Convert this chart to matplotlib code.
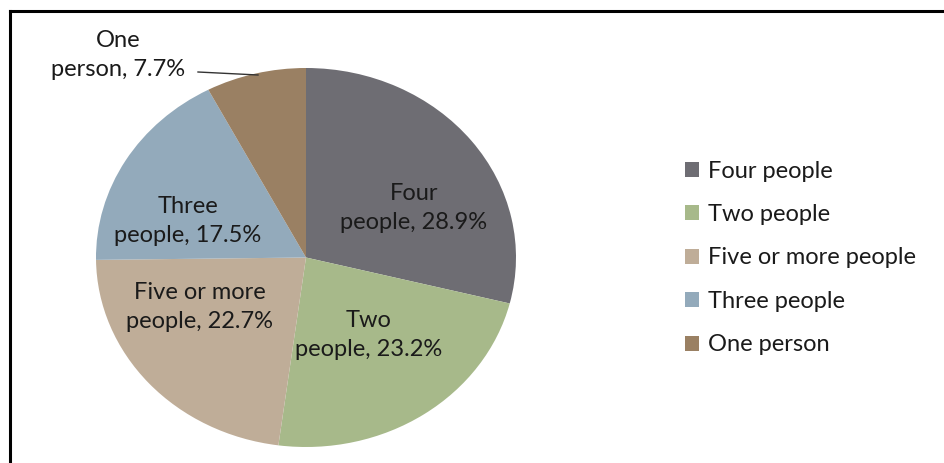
import matplotlib.pyplot as plt
from matplotlib.lines import Line2D
from matplotlib.patches import Patch

categories = ['Four people', 'Two people', 'Five or more people', 'Three people', 'One person']
shares = [28.9, 23.2, 22.7, 17.5, 7.7]
colors = ['#6e6d73', '#a7b98a', '#bfad98', '#93aabb', '#9a8063']
slice_labels = ['Four\npeople, 28.9%', 'Two\npeople, 23.2%', 'Five or more\npeople, 22.7%',
                'Three\npeople, 17.5%', 'One\nperson, 7.7%']

plt.rcParams['font.family'] = ['Lato', 'DejaVu Sans']

W, H = 944, 463
fig = plt.figure(figsize=(W / 100, H / 100), dpi=100)

# outer frame: only the top and left edges are inside the picture
fig.add_artist(Line2D([10 / W, 10 / W], [0, 1 - 11 / H], transform=fig.transFigure, color='black', lw=2.2))
fig.add_artist(Line2D([10 / W, 1], [1 - 11 / H, 1 - 11 / H], transform=fig.transFigure, color='black', lw=2.2))

# pie axes, stretched horizontally into an ellipse
ax = fig.add_axes([96 / W, 16 / H, 420 / W, 379 / H])
wedges, _ = ax.pie(shares, colors=colors, startangle=90, counterclock=False, radius=1)
ax.set_aspect('auto')
ax.set_xlim(-1, 1)
ax.set_ylim(-1, 1)


def fig_xy(px, py):
    return px / W, 1 - py / H


label_pos = [(414, 208), (369, 335), (200, 307), (188, 221)]
for txt, (px, py) in zip(slice_labels[:4], label_pos):
    fig.text(*fig_xy(px, py), txt, ha='center', va='center', fontsize=17,
             color='#1a1a1a', linespacing=1.45)

# outside label for the small slice, with leader line
fig.text(*fig_xy(118, 55), slice_labels[4], ha='center', va='center', fontsize=17,
         color='#1a1a1a', linespacing=1.45)
x0, y0 = fig_xy(198, 72)
x1, y1 = fig_xy(258, 75)
fig.add_artist(Line2D([x0, x1], [y0, y1], transform=fig.transFigure, color='#333333', lw=1))

handles = [Patch(facecolor=c, edgecolor='none') for c in colors]
fig.legend(handles, categories, loc='center left', bbox_to_anchor=(664 / W, 1 - 258 / H),
           frameon=False, fontsize=17, handlelength=0.6, handleheight=0.6,
           handletextpad=0.35, labelspacing=0.95, labelcolor='#1a1a1a')

fig.savefig('out.png', dpi=100, facecolor='white')
